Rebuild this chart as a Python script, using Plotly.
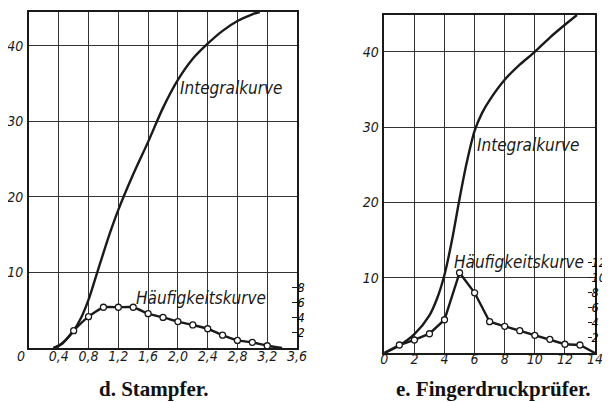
import plotly.graph_objects as go

# ---------------- data: d. Stampfer ----------------
d_x_ticks = [0, 0.4, 0.8, 1.2, 1.6, 2.0, 2.4, 2.8, 3.2, 3.6]
d_x_ticktext = ["0\u00a0\u00a0\u00a0\u00a0", "0,4", "0,8", "1,2", "1,6", "2,0", "2,4", "2,8", "3,2", "3,6"]
d_integral_x = [0.33, 0.4, 0.5, 0.6, 0.7, 0.8, 0.9, 1.0, 1.1, 1.2, 1.4, 1.6, 1.8, 2.0, 2.2, 2.4, 2.6, 2.8, 3.0, 3.1]
d_integral_y = [0.0, 0.3, 1.1, 2.3, 4.0, 6.4, 9.5, 12.6, 15.6, 18.3, 23.0, 27.3, 31.8, 35.5, 38.3, 40.3, 42.0, 43.3, 44.2, 44.5]
d_freq_x = [0.33, 0.45, 0.6, 0.8, 1.0, 1.2, 1.4, 1.6, 1.8, 2.0, 2.2, 2.4, 2.6, 2.8, 3.0, 3.2, 3.4]
d_freq_y = [0.0, 0.6, 2.3, 4.15, 5.4, 5.4, 5.4, 4.55, 4.05, 3.5, 3.05, 2.55, 1.7, 1.0, 0.75, 0.3, 0.0]
d_right_ticks = [2, 4, 6, 8]

# ---------------- data: e. Fingerdruckprüfer ----------------
e_x_ticks = [0, 2, 4, 6, 8, 10, 12, 14]
e_integral_x = [0, 1, 2, 3, 3.5, 4.0, 4.5, 5.0, 5.5, 6.0, 6.5, 7, 8, 9, 10, 11, 12, 12.8]
e_integral_y = [0, 1.0, 2.5, 5.0, 7.2, 10.4, 15.0, 20.5, 25.5, 29.5, 31.9, 33.6, 36.3, 38.3, 40.0, 41.9, 43.6, 44.9]
e_freq_x = [0, 1, 2, 3, 4, 5, 6, 7, 8, 9, 10, 11, 12, 13, 14]
e_freq_y = [0, 1.06, 1.73, 2.56, 4.42, 10.66, 8.0, 4.16, 3.55, 2.96, 2.35, 1.82, 1.16, 1.06, 0]
e_right_ticks = [2, 4, 6, 8, 10, 12]

y_ticks = [10, 20, 30, 40]
d_yrange = [0, 44.5]
e_yrange = [0, 44.9]

INK = "#1a1a1a"
FONT = "DejaVu Sans Condensed, DejaVu Sans, sans-serif"

# page body has an 8px margin: figure is placed at (8, 8)
W, H, OFF = 610, 402, 8


def fx(px):
    return (px - OFF) / W


def fy(py):
    return 1 - (py - OFF) / H


fig = go.Figure()

# left chart curves
fig.add_trace(go.Scatter(x=d_integral_x, y=d_integral_y, mode="lines",
                         line=dict(color=INK, width=2.4, shape="spline", smoothing=0.8),
                         xaxis="x", yaxis="y", showlegend=False, hoverinfo="skip"))
fig.add_trace(go.Scatter(x=d_freq_x, y=d_freq_y, mode="lines",
                         line=dict(color=INK, width=2.4, shape="spline", smoothing=0.5),
                         xaxis="x", yaxis="y", showlegend=False, hoverinfo="skip"))
fig.add_trace(go.Scatter(x=d_freq_x[2:-1], y=d_freq_y[2:-1], mode="markers",
                         marker=dict(symbol="circle", size=6, color="white",
                                     line=dict(color=INK, width=1.3)),
                         xaxis="x", yaxis="y", showlegend=False, hoverinfo="skip"))

# right chart curves
fig.add_trace(go.Scatter(x=e_integral_x, y=e_integral_y, mode="lines",
                         line=dict(color=INK, width=2.4, shape="spline", smoothing=0.8),
                         xaxis="x2", yaxis="y2", showlegend=False, hoverinfo="skip"))
fig.add_trace(go.Scatter(x=e_freq_x, y=e_freq_y, mode="lines",
                         line=dict(color=INK, width=2.4),
                         xaxis="x2", yaxis="y2", showlegend=False, hoverinfo="skip"))
fig.add_trace(go.Scatter(x=e_freq_x[1:-1], y=e_freq_y[1:-1], mode="markers",
                         marker=dict(symbol="circle", size=6, color="white",
                                     line=dict(color=INK, width=1.3)),
                         xaxis="x2", yaxis="y2", showlegend=False, hoverinfo="skip"))

tickfont = dict(family=FONT, size=14, color=INK, style="italic")
grid = dict(showgrid=True, gridcolor="#333333", gridwidth=1.1, zeroline=False,
            showline=True, linecolor=INK, linewidth=1.6, mirror=True, ticks="",
            tickfont=tickfont, fixedrange=True, automargin=False)

rfont = dict(family=FONT, size=12.5, color="#000000", style="italic")

fig.update_layout(
    width=W, height=H,
    margin=dict(l=0, r=0, t=0, b=0, autoexpand=False),
    paper_bgcolor="white", plot_bgcolor="white",
    xaxis=dict(domain=[fx(29), fx(297)], range=[0, 3.6], tickvals=d_x_ticks,
               ticktext=d_x_ticktext, anchor="y", ticklabelstandoff=-6, **grid),
    yaxis=dict(domain=[fy(348), fy(12)], range=d_yrange, tickvals=y_ticks, anchor="x",
               ticklabelstandoff=1, **grid),
    yaxis3=dict(overlaying="y", side="right", anchor="free", position=fx(291),
                range=d_yrange, tickvals=d_right_ticks, showgrid=False, zeroline=False,
                showline=False, ticks="outside", ticklen=5, tickwidth=1.2, tickcolor=INK,
                tickfont=rfont, fixedrange=True, automargin=False, ticklabelstandoff=-2),
    xaxis2=dict(domain=[fx(384.3), fx(595)], range=[0, 14], tickvals=e_x_ticks,
                anchor="y2", ticklabelstandoff=-8, **grid),
    yaxis2=dict(domain=[fy(353), fy(15)], range=e_yrange, tickvals=y_ticks, anchor="x2",
                ticklabelstandoff=1, **grid),
    yaxis4=dict(overlaying="y2", side="right", anchor="free", position=fx(587),
                range=e_yrange, tickvals=e_right_ticks, showgrid=False, zeroline=False,
                showline=False, ticks="outside", ticklen=4, tickwidth=1.2, tickcolor=INK,
                tickfont=rfont, fixedrange=True, automargin=False, ticklabelstandoff=-3),
)

# traces bound to the right-hand scales so that they are drawn
fig.add_trace(go.Scatter(x=d_freq_x, y=d_freq_y, xaxis="x", yaxis="y3", mode="lines",
                         line=dict(width=0, color="rgba(0,0,0,0)"), showlegend=False,
                         hoverinfo="skip"))
fig.add_trace(go.Scatter(x=e_freq_x, y=e_freq_y, xaxis="x2", yaxis="y4", mode="lines",
                         line=dict(width=0, color="rgba(0,0,0,0)"), showlegend=False,
                         hoverinfo="skip"))

lab = dict(family=FONT, size=17, color=INK, style="italic")
fig.add_annotation(x=2.72, y=34.4, xref="x", yref="y", text="Integralkurve",
                   showarrow=False, font=lab)
fig.add_annotation(x=2.31, y=6.6, xref="x", yref="y", text="Häufigkeitskurve",
                   showarrow=False, font=lab)
fig.add_annotation(x=9.57, y=27.6, xref="x2", yref="y2", text="Integralkurve",
                   showarrow=False, font=lab)
fig.add_annotation(x=8.96, y=12.1, xref="x2", yref="y2", text="Häufigkeitskurve",
                   showarrow=False, font=lab)

cap = dict(family="Liberation Serif, DejaVu Serif, serif", size=21, color="#111111")
fig.add_annotation(x=fx(153), y=fy(389), xref="paper", yref="paper",
                   xanchor="center", yanchor="middle",
                   text="<b>d. Stampfer.</b>", showarrow=False, font=cap)
fig.add_annotation(x=fx(493), y=fy(389), xref="paper", yref="paper",
                   xanchor="center", yanchor="middle",
                   text="<b>e. Fingerdruckprüfer.</b>", showarrow=False, font=cap)

fig.write_html("out.html")
